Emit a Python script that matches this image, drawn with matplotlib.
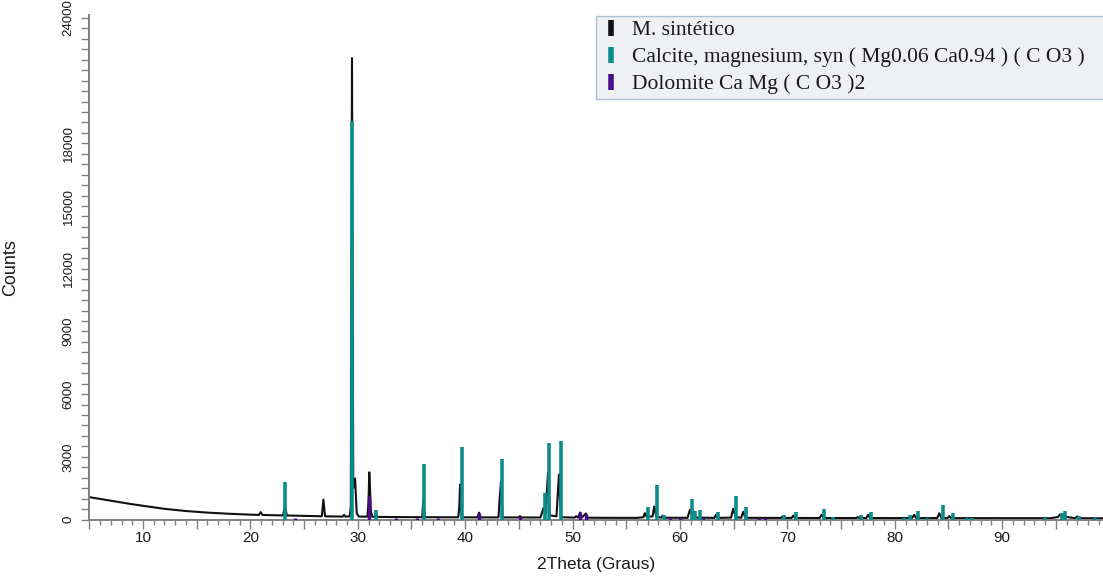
import matplotlib
matplotlib.use("Agg")
import matplotlib.pyplot as plt
from matplotlib.lines import Line2D
from matplotlib.ticker import MultipleLocator, FixedLocator, FuncFormatter

trace_2theta = [
    5.0, 6, 7, 8, 9, 10, 11, 12, 13, 14, 15, 16, 17, 18, 19, 20,
    20.8, 20.96, 21.12, 22, 23.05, 23.22, 23.39, 24, 25, 26, 26.65, 26.8, 26.95,
    28, 28.6, 28.72, 28.85,
    29.25, 29.35, 29.46, 29.58, 29.75, 29.9, 30.1,
    30.9, 31.0, 31.07, 31.12, 31.22, 31.35, 31.6, 31.69, 31.8,
    33, 35, 36.0, 36.1, 36.25, 38, 39.35, 39.45, 39.52, 39.65, 41.15, 41.29, 41.42,
    43.1, 43.22, 43.33, 43.48, 44.95, 45.1, 45.25,
    47.0, 47.31, 47.5, 47.71, 47.88, 48.5, 48.73, 48.9, 50.2, 50.32, 50.5, 50.7, 50.85, 51.24, 51.4,
    53, 56, 56.6, 56.73, 56.9, 57.45, 57.6, 57.8, 58.25, 58.39, 58.55,
    60.7, 60.93, 61.1, 61.30, 61.5, 63.2, 63.35, 63.5, 64.75, 64.96, 65.2, 65.7, 65.89, 66.1,
    69.4, 69.56, 69.7, 70.4, 70.55, 70.7, 73.0, 73.19, 73.4, 76.4, 76.55, 76.7, 77.35, 77.53, 77.7,
    81.6, 81.82, 82.0, 83.95, 84.14, 84.35, 84.9, 85.07, 85.25,
    94.5, 95.2, 95.4, 95.6, 96.8, 97.0, 97.2, 99.5,
]
trace_counts = [
    1070, 985, 900, 810, 730, 655, 575, 510, 455, 405, 365, 330, 300, 275, 252, 232,
    220, 350, 218, 205, 195, 700, 192, 185, 172, 160, 155, 956, 153,
    142, 140, 225, 138,
    150, 600, 22080, 1500, 1960, 300, 140,
    135, 900, 2260, 1720, 400, 130, 128, 300, 126,
    118, 112, 110, 956, 110, 105, 105, 600, 1673, 105, 102, 330, 102,
    100, 1066, 1800, 100, 98, 158, 97,
    96, 560, 300, 2260, 200, 150, 2150, 110, 90, 158, 90, 335, 90, 287, 85,
    80, 78, 110, 300, 130, 150, 620, 140, 90, 190, 85,
    80, 464, 250, 382, 90, 78, 225, 78, 90, 511, 110, 85, 368, 80,
    75, 143, 75, 75, 190, 75, 72, 225, 72, 70, 110, 70, 70, 225, 70,
    68, 225, 68, 68, 300, 68, 66, 158, 66,
    62, 120, 250, 150, 62, 150, 60, 58,
]

# Calcite, magnesium reference sticks
calcite_2theta = [23.22, 29.46, 31.69, 36.16, 39.70, 43.42, 47.43, 47.83, 48.89,
                  56.98, 57.83, 58.54, 61.12, 61.43, 61.86, 63.51, 65.19, 66.15,
                  69.71, 70.80, 73.44, 74.27, 76.83, 77.81, 80.86, 81.42, 82.19,
                  82.97, 84.46, 85.45, 86.70, 87.16, 94.0, 95.53, 95.85, 97.11, 98.6]
calcite_counts = [1816, 19070, 478, 2677, 3489, 2916, 1290, 3650, 3776,
                  621, 1660, 225, 1004, 430, 464, 368, 1114, 621,
                  225, 368, 511, 143, 225, 368, 62, 225, 430,
                  62, 717, 300, 62, 62, 57, 320, 387, 158, 50]

# Dolomite reference sticks
dolomite_2theta = [24.15, 31.07, 33.6, 35.5, 37.5, 41.29, 45.1, 50.7, 51.24,
                   59.06, 60.0, 62.1, 67.4, 67.9]
dolomite_counts = [90, 1147, 70, 70, 70, 300, 110, 335, 287,
                   80, 90, 70, 80, 70]

legend_labels = ["M. sintético",
                 "Calcite, magnesium, syn ( Mg0.06 Ca0.94 ) ( C O3 )",
                 "Dolomite Ca Mg ( C O3 )2"]
y_labels = [0, 3000, 6000, 9000, 12000, 15000, 18000, 24000]

c_black = "#111111"
c_teal = "#0e8c8c"
c_purple = "#4b0c8c"
c_axis = "#808080"

fig = plt.figure(figsize=(11.03, 5.76), dpi=100)
W, H = 1103, 576
ax = fig.add_axes([89.3 / W, (H - 519.5) / H, 1 - 89.3 / W, 504.5 / H])

ax.plot(trace_2theta, trace_counts, color=c_black, lw=1.5, zorder=2)
ax.vlines(calcite_2theta, 0, calcite_counts, color=c_teal, lw=2.6, zorder=3)
ax.vlines(dolomite_2theta, 0, dolomite_counts, color=c_purple, lw=2.4, zorder=4)

ax.set_xlim(5, 99.39)
ax.set_ylim(0, 24140)

for s in ["top", "right"]:
    ax.spines[s].set_visible(False)
for s in ["left", "bottom"]:
    ax.spines[s].set_color(c_axis)
    ax.spines[s].set_linewidth(1.4)

# x ticks
ax.xaxis.set_major_locator(MultipleLocator(5))
ax.xaxis.set_minor_locator(MultipleLocator(1))
ax.xaxis.set_major_formatter(FuncFormatter(
    lambda v, p: "%d" % v if abs(v % 10) < 1e-6 and v > 5 else ""))
ax.tick_params(axis="x", which="major", length=6.5, width=1.0, color=c_axis,
               labelsize=11, pad=2, labelcolor="#1a1a1a")
ax.tick_params(axis="x", which="minor", length=3.8, width=1.0, color=c_axis)

# y ticks
ax.yaxis.set_major_locator(FixedLocator(y_labels))
ax.yaxis.set_minor_locator(MultipleLocator(500))
ax.tick_params(axis="y", which="both", length=5.5, width=1.0, color=c_axis)
ax.tick_params(axis="y", which="major", labelsize=9.5, pad=5, labelcolor="#1a1a1a")
for lab in ax.get_yticklabels():
    lab.set_rotation(90)
    lab.set_va("center")

for lab in ax.get_xticklabels() + ax.get_yticklabels():
    lab.set_family("Liberation Sans")

ax.set_xlabel("2Theta (Graus)", family="Liberation Sans", fontsize=12.5, color="#1a1a1a")
ax.xaxis.set_label_coords(0.5, -0.075)
ax.set_ylabel("Counts", family="Liberation Sans", fontsize=13, color="#1a1a1a")
ax.yaxis.set_label_coords(-0.0693, 0.5)

handles = [Line2D([], [], ls="none", marker="|", ms=11, mew=4, color=c)
           for c in (c_black, c_teal, c_purple)]
leg = ax.legend(handles, legend_labels, loc="upper left",
                bbox_to_anchor=(596 / W, 1 - 16 / H, 520 / W, 0.0),
                bbox_transform=fig.transFigure, mode="expand",
                prop={"family": "Liberation Serif", "size": 15.5},
                frameon=True, fancybox=False, framealpha=1,
                facecolor="#eef0f4", edgecolor="#b0bed2",
                borderpad=0.2, labelspacing=0.32, handlelength=1.0,
                handletextpad=0.45, borderaxespad=0)
leg.get_frame().set_linewidth(1.0)
for t in leg.get_texts():
    t.set_color("#1a1a1a")

fig.savefig("out.png", dpi=100)
